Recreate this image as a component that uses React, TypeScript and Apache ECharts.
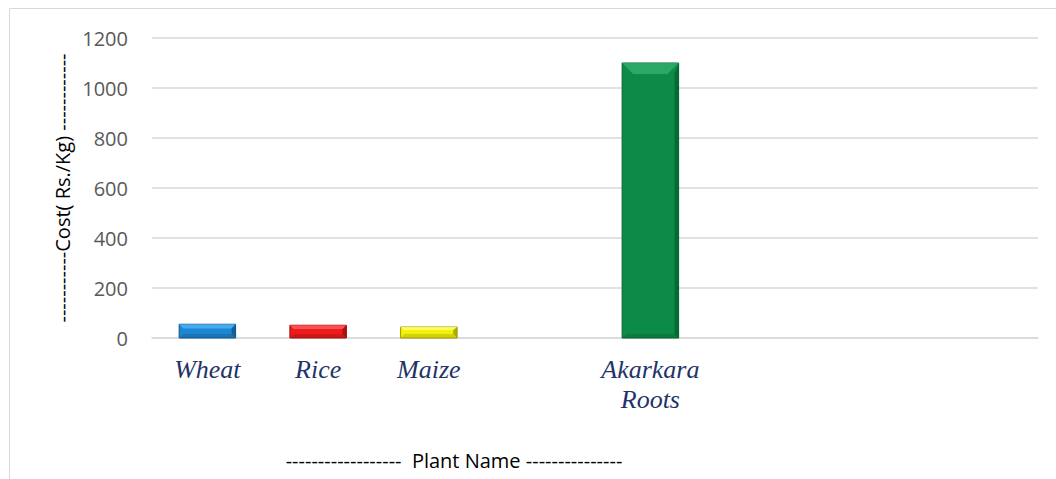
import React, { useEffect, useRef } from "react";
import * as echarts from "echarts";

const categories = ["Wheat", "Rice", "Maize", "", "Akarkara\nRoots", " ", "  ", "   "];
const costs: (number | null)[] = [55, 51, 44, null, 1100, null, null, null];
const baseColors = ["#1e86d0", "#ee1b1e", "#f2f00c", "", "#0b8b45", "", "", ""];
const lightColors = ["#4db2f2", "#ff5a5a", "#ffff66", "", "#2fae68", "", "", ""];
const darkColors = ["#12558a", "#9a0d0d", "#9c9a00", "", "#05612f", "", "", ""];
const yTicks = { min: 0, max: 1200, interval: 200 };
const yName = "-----------Cost( Rs./Kg) ------------";
const xName = "------------------  Plant Name ---------------";

export default function App() {
  const ref = useRef<HTMLDivElement>(null);
  useEffect(() => {
    if (!ref.current) return;
    const chart = echarts.init(ref.current, null, { renderer: "svg" });
    const data = costs
      .map((v, i) => (v == null ? null : [i, v]))
      .filter((d) => d !== null) as number[][];
    chart.setOption({
      animation: false,
      backgroundColor: "#ffffff",
      grid: { left: 152, right: 18, top: 38, bottom: 141, containLabel: false },
      xAxis: {
        type: "category",
        data: categories,
        axisTick: { show: false },
        axisLine: { lineStyle: { color: "#d9d9d9", width: 1.5 } },
        axisLabel: {
          interval: 0,
          margin: 16,
          fontFamily: "Liberation Serif",
          fontStyle: "italic",
          fontSize: 26,
          lineHeight: 30,
          color: "#1f3468",
        },
      },
      yAxis: {
        type: "value",
        min: yTicks.min,
        max: yTicks.max,
        interval: yTicks.interval,
        axisLine: { show: false },
        axisTick: { show: false },
        splitLine: { lineStyle: { color: "#d9d9d9", width: 1.5 } },
        axisLabel: {
          fontFamily: "Open Sans",
          fontSize: 20,
          color: "#595959",
          margin: 24,
          formatter: (v: number) => String(v),
        },
      },
      series: [
        {
          type: "custom",
          data,
          renderItem: (params: any, api: any) => {
            const idx = api.value(0);
            const val = api.value(1);
            const top = api.coord([idx, val]);
            const bot = api.coord([idx, 0]);
            const w = api.size([1, 0])[0] * 0.51;
            const x0 = top[0] - w / 2;
            const x1 = top[0] + w / 2;
            const y0 = top[1];
            const y1 = bot[1];
            const h = y1 - y0;
            const d = Math.min(11, h * 0.3);
            const s = Math.min(4, w * 0.08);
            return {
              type: "group",
              children: [
                { type: "rect", shape: { x: x0, y: y0, width: w, height: h }, style: { fill: baseColors[idx], stroke: darkColors[idx], lineWidth: 1 } },
                { type: "polygon", shape: { points: [[x0, y0], [x1, y0], [x1 - d, y0 + d], [x0 + d, y0 + d]] }, style: { fill: lightColors[idx], opacity: 0.85 } },
                { type: "polygon", shape: { points: [[x1, y0], [x1, y1], [x1 - s, y1 - s], [x1 - s, y0 + d]] }, style: { fill: darkColors[idx], opacity: 0.8 } },
                { type: "polygon", shape: { points: [[x0, y1], [x1, y1], [x1 - s, y1 - s], [x0 + s, y1 - s]] }, style: { fill: darkColors[idx], opacity: 0.35 } },
              ],
            };
          },
        },
      ],
      graphic: [
        { type: "rect", silent: true, shape: { x: 9.5, y: 8.5, width: 1100, height: 500 }, style: { fill: "none", stroke: "#d9d9d9", lineWidth: 1 } },
        {
          type: "text",
          x: 62,
          y: 188,
          rotation: Math.PI / 2,
          style: { text: yName, fontFamily: "Open Sans", fontSize: 20, fill: "#000000", align: "center", verticalAlign: "middle" },
        },
        {
          type: "text",
          x: 454,
          y: 460,
          style: { text: xName, fontFamily: "Open Sans", fontSize: 20, fill: "#000000", align: "center", verticalAlign: "middle" },
        },
      ],
    });
    return () => chart.dispose();
  }, []);
  return <div ref={ref} style={{ position: "absolute", left: 0, top: 0, width: 1056, height: 479 }} />;
}
